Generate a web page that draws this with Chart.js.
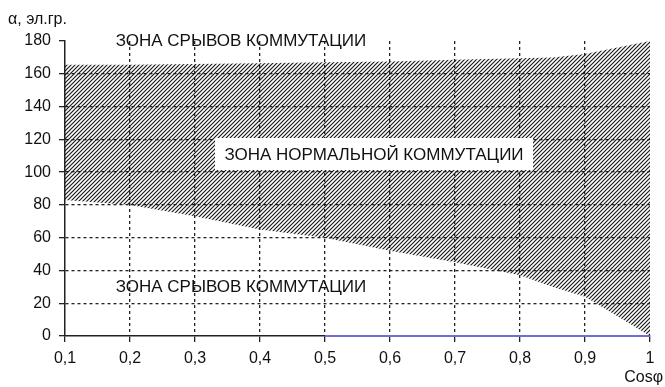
<!DOCTYPE html>
<html>
<head>
<meta charset="utf-8">
<script src="https://cdn.jsdelivr.net/npm/chart.js@4/dist/chart.umd.min.js"></script>
<style>
  html, body { margin: 0; padding: 0; background: #fff; }
  #chart { display: block; }
</style>
</head>
<body>
<canvas id="chart" width="665" height="387"></canvas>
<script>
// Power factor values along the horizontal axis
const cosPhi = [0.1, 0.2, 0.3, 0.4, 0.5, 0.6, 0.7, 0.8, 0.85, 0.9, 0.95, 1];
// Lower limit of normal commutation, electrical degrees
const lowerBound = [83, 80, 73, 65, 60, 52, 45, 37, 30, 24, 12, 0];
// Upper limit of normal commutation, electrical degrees
const upperBound = [165.5, 165.5, 166, 166.5, 167, 167.5, 168.5, 169.5, 170, 172, 176, 180];
// Short blue trace along the zero line
const zeroLineX = [0.5, 1];
const zeroLineY = [0, 0];

// Axis ticks
const xTickValues = [0.1, 0.2, 0.3, 0.4, 0.5, 0.6, 0.7, 0.8, 0.9, 1];
const xTickLabels = ['0,1', '0,2', '0,3', '0,4', '0,5', '0,6', '0,7', '0,8', '0,9', '1'];
const yTickValues = [0, 20, 40, 60, 80, 100, 120, 140, 160, 180];

// Zone captions
const zoneTop = 'ЗОНА СРЫВОВ КОММУТАЦИИ';
const zoneNormal = 'ЗОНА НОРМАЛЬНОЙ КОММУТАЦИИ';
const zoneBottom = 'ЗОНА СРЫВОВ КОММУТАЦИИ';
const yTitle = 'α, эл.гр.';
const xTitle = 'Cosφ';

const FONT = '"Liberation Sans", Arial, sans-serif';

// Diagonal hatch pattern for the normal-commutation band
function makeHatch() {
  const c = document.createElement('canvas');
  c.width = 4; c.height = 4;
  const g = c.getContext('2d');
  g.strokeStyle = '#1a1a1a';
  g.lineWidth = 1.2;
  g.beginPath();
  g.moveTo(-1, 5); g.lineTo(5, -1);
  g.moveTo(-3, 3); g.lineTo(3, -3);
  g.moveTo(1, 7); g.lineTo(7, 1);
  g.stroke();
  return g.createPattern(c, 'repeat');
}

const pts = (xs, ys) => xs.map((x, i) => ({ x, y: ys[i] }));

const captions = {
  id: 'captions',
  afterDatasetsDraw(chart) {
    const ctx = chart.ctx;
    ctx.save();
    ctx.fillStyle = '#111';
    ctx.font = '17px ' + FONT;
    ctx.textAlign = 'center';
    ctx.textBaseline = 'middle';
    ctx.fillText(zoneTop, 241, 41);
    ctx.fillText(zoneBottom, 241, 287);

    // caption over the hatched band sits on a white box
    ctx.fillStyle = '#fff';
    ctx.fillRect(215, 138, 318, 32);
    ctx.fillStyle = '#111';
    ctx.fillText(zoneNormal, 374, 155);

    ctx.font = '16px ' + FONT;
    ctx.textAlign = 'left';
    ctx.fillText(yTitle, 8, 20);
    ctx.textAlign = 'right';
    ctx.fillText(xTitle, 663, 378);
    ctx.restore();
  }
};

new Chart(document.getElementById('chart'), {
  type: 'line',
  data: {
    datasets: [
      {
        data: pts(cosPhi, lowerBound),
        borderWidth: 0,
        borderColor: 'transparent',
        pointRadius: 0,
        fill: false,
        tension: 0
      },
      {
        data: pts(cosPhi, upperBound),
        borderWidth: 0,
        borderColor: 'transparent',
        pointRadius: 0,
        backgroundColor: makeHatch(),
        fill: '-1',
        tension: 0
      },
      {
        data: pts(zeroLineX, zeroLineY),
        borderColor: 'rgb(110,110,215)',
        borderWidth: 2.2,
        pointRadius: 0,
        fill: false,
        clip: false
      }
    ]
  },
  options: {
    responsive: false,
    animation: false,
    events: [],
    layout: { padding: { left: 0, right: 15, top: 41, bottom: 0 } },
    plugins: {
      legend: { display: false },
      tooltip: { enabled: false },
      title: { display: false }
    },
    scales: {
      x: {
        type: 'linear',
        min: 0.1,
        max: 1,
        afterBuildTicks(scale) { scale.ticks = xTickValues.map(v => ({ value: v })); },
        afterFit(scale) { scale.height = 51; },
        ticks: {
          callback: (v, i) => xTickLabels[i],
          color: '#111',
          font: { family: FONT, size: 16 },
          padding: 7,
          maxRotation: 0,
          autoSkip: false
        },
        grid: {
          color: (c) => (c.index === 0 || c.index === xTickValues.length - 1) ? 'rgba(0,0,0,0)' : '#222',
          lineWidth: 1.3,
          tickColor: '#222',
          tickLength: 6,
          drawTicks: true
        },
        border: { display: true, color: '#222', width: 1.5, dash: [3, 3] }
      },
      y: {
        type: 'linear',
        min: 0,
        max: 180,
        afterBuildTicks(scale) { scale.ticks = yTickValues.map(v => ({ value: v })); },
        afterFit(scale) { scale.width = 65; },
        ticks: {
          color: '#111',
          font: { family: FONT, size: 16 },
          padding: 8
        },
        grid: {
          color: (c) => (c.tick && (c.tick.value === 0 || c.tick.value === 180)) ? 'rgba(0,0,0,0)' : '#222',
          lineWidth: 1.3,
          tickColor: '#222',
          tickLength: 6,
          drawTicks: true
        },
        border: { display: true, color: '#222', width: 1.5, dash: [3, 3] }
      }
    }
  },
  plugins: [captions]
});
</script>
</body>
</html>
